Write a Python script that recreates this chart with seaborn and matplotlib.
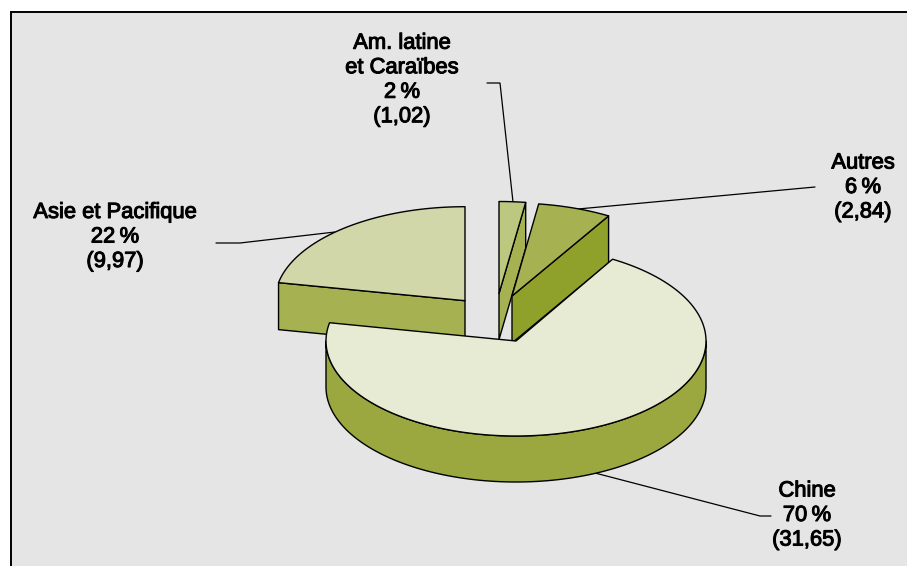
import numpy as np
import matplotlib
matplotlib.use("Agg")
import matplotlib.pyplot as plt
import matplotlib.patheffects as pe
from matplotlib.patches import Polygon, Rectangle
import seaborn as sns

# Data
names = ["Am. latine\net Caraïbes", "Autres", "Chine", "Asie et Pacifique"]
values = [1.02, 2.84, 31.65, 9.97]

# Styles and layout
top_colors = sns.color_palette(["#BCC77F", "#A6B152", "#E7EBD3", "#D1D7A8"])
wall_colors = sns.color_palette(["#A6B152", "#8FA02B", "#9BA83F", "#A6B152"])
centers = [(499, 293.5), (512, 296), (516, 341), (465, 300.7)]
radii_y = [92, 93, 95, 94]
radius_x = 190
depths = [46, 47, 46, 47]
draw_order = [3, 0, 1, 2]
label_pos = [(402, 80), (863, 187.5), (807, 515.5), (115, 237)]
leaders = [
    [(487, 83), (500, 83), (513, 202)],
    [(815, 187), (578, 209)],
    [(771, 516), (760, 516), (595, 473)],
    [(216, 243), (240, 243), (335, 232)],
]

sns.set_theme(style="white")
plt.rcParams["font.family"] = ["Liberation Sans", "DejaVu Sans"]

fig = plt.figure(figsize=(9.07, 5.66), dpi=100, facecolor="white")
ax = fig.add_axes([0, 0, 1, 1])
ax.set_xlim(0, 907)
ax.set_ylim(566, 0)
ax.axis("off")

ax.add_patch(Rectangle((10.5, 11.5), 900, 560, facecolor="#E5E5E5",
                       edgecolor="black", linewidth=1.4, zorder=0))

total = sum(values)
sweeps = [v / total * 360 for v in values]
starts = np.concatenate([[0], np.cumsum(sweeps)[:-1]])


def rim(i, a, b, n=160, drop=0):
    t = np.radians(np.linspace(a, b, n))
    cx, cy = centers[i]
    return np.column_stack([cx + radius_x * np.sin(t),
                            cy - radii_y[i] * np.cos(t) + drop])


z = 2
for i in draw_order:
    a, b = starts[i], starts[i] + sweeps[i]
    cx, cy = centers[i]
    d = depths[i]
    kw = dict(edgecolor="black", linewidth=1.0, joinstyle="round")
    if i == 2:
        # Front rim of the large slice
        lo, hi = max(a, 90), min(b, 270)
        ax.add_patch(Polygon(np.vstack([rim(i, lo, hi), rim(i, hi, lo, drop=d)]),
                             facecolor=wall_colors[i], zorder=z, **kw))
    else:
        # Visible cut face of an exploded slice
        edge = b if i in (0, 1) else a
        p = rim(i, edge, edge, n=1)[0]
        ax.add_patch(Polygon([(cx, cy), p, (p[0], p[1] + d), (cx, cy + d)],
                             facecolor=wall_colors[i], zorder=z, **kw))
    z += 1
    ax.add_patch(Polygon(np.vstack([[(cx, cy)], rim(i, a, b)]),
                         facecolor=top_colors[i], zorder=z, **kw))
    z += 1

for path in leaders:
    xs, ys = zip(*path)
    ax.plot(xs, ys, color="black", lw=0.9, zorder=1, solid_joinstyle="miter")

for name, v, (x, y) in zip(names, values, label_pos):
    pct = round(v / total * 100)
    number = f"{v:.2f}".replace(".", ",")
    txt = f"{name}\n{pct}\u2009%\n({number})"
    ax.text(x, y, txt, ha="center", va="center", fontsize=15.8, color="black",
            linespacing=1.22, zorder=20,
            path_effects=[pe.withStroke(linewidth=0.75, foreground="black")])

sns.despine(fig=fig, left=True, bottom=True)
fig.savefig("out.png", dpi=100, facecolor="white")
